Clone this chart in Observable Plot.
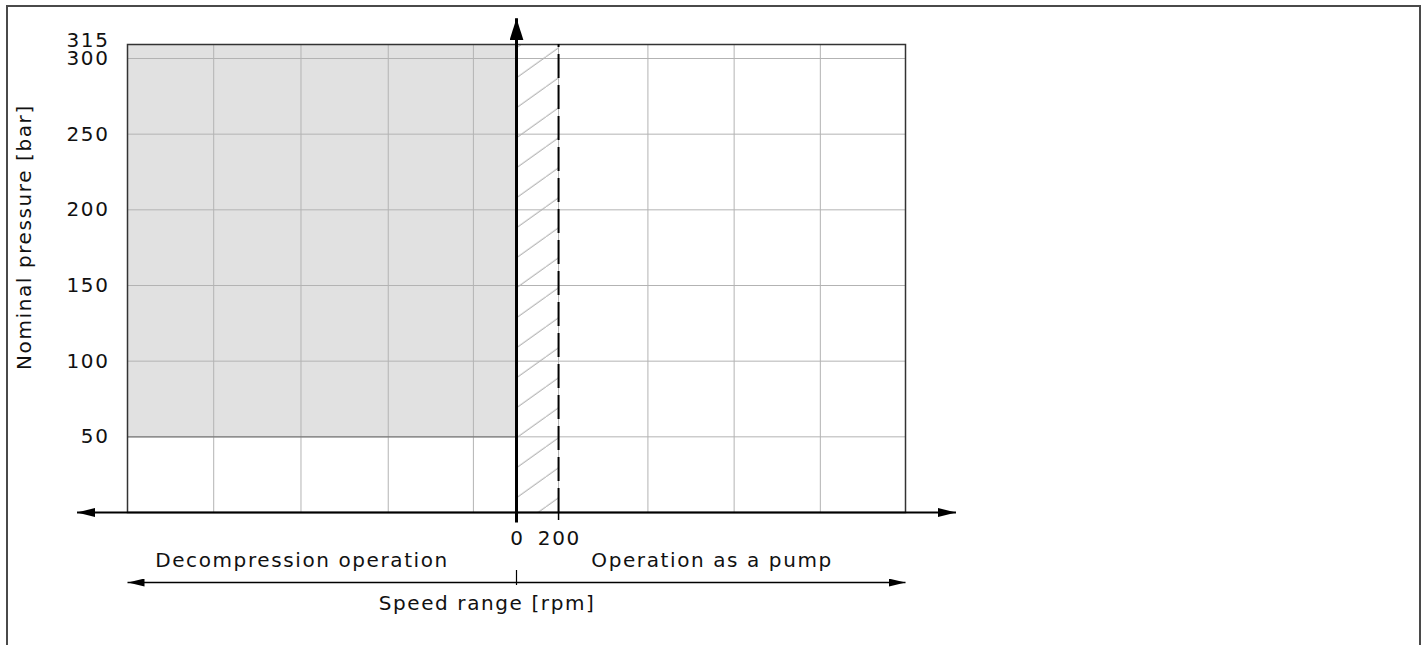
<!DOCTYPE html>
<html><head><meta charset="utf-8">
<script src="https://cdn.jsdelivr.net/npm/d3@7"></script>
<script src="https://cdn.jsdelivr.net/npm/@observablehq/plot@0.6"></script>
<style>
html,body{margin:0;padding:0;background:#fff;overflow:hidden;}
#wrap{position:relative;width:1426px;height:645px;}
#border{position:absolute;left:6px;top:5px;width:1415px;height:700px;box-sizing:border-box;border:2px solid #4a4a4a;border-bottom:none;}
#chart{position:absolute;left:0;top:0;}
</style></head><body>
<div id="wrap"><div id="border"></div><div id="chart"></div></div>
<script>
// ---- data ----
const pressureTicks = [50, 100, 150, 200, 250, 300];
const pressureMax = 315;
const pressureGrid = [50, 100, 150, 200, 250, 300];
const speedTicks = [0, 200];
const speedGrid = [-1440, -1025, -610, -205, 200, 625, 1035, 1445];
const speedLimits = [-1850, 1850];
const zoneNames = ["Decompression operation", "Operation as a pump"];
const zoneLabelSpeed = [-1020, 930];
const shadedSpeed = [-1850, 0];
const shadedPressure = [50, 315];
const hatchSpeed = [0, 200];
const hatchPressure = [0, 315];
const xTitle = "Speed range [rpm]";
const xTitleSpeed = -140;
const yTitle = "Nominal pressure [bar]";
const yTitlePressure = 182;
const axisArrowSpeed = 2090;   // tips of the horizontal axis arrows
const axisArrowPressure = 343; // tip of the vertical axis arrow
const axisFootPressure = -6.6; // small extension of the vertical axis below zero

function solidArrow(len, wid) {
  return (color) => {
    const m = d3.create("svg:marker")
      .attr("viewBox", `0 ${-wid / 2} ${len} ${wid}`)
      .attr("markerUnits", "userSpaceOnUse")
      .attr("markerWidth", len).attr("markerHeight", wid)
      .attr("refX", len).attr("refY", 0)
      .attr("orient", "auto");
    m.append("path").attr("d", `M0,${-wid / 2}L${len},0L0,${wid / 2}Z`).attr("fill", color).attr("stroke", "none");
    return m.node();
  };
}

const svg = Plot.plot({
  width: 1426,
  height: 645,
  marginLeft: 127,
  marginRight: 521,
  marginTop: 44,
  marginBottom: 133,
  style: {fontFamily: "'DejaVu Sans', sans-serif", fontSize: "20px", letterSpacing: "1.6px", color: "#111", background: "transparent", overflow: "visible"},
  x: {type: "linear", domain: speedLimits, axis: null, label: null},
  y: {type: "linear", domain: [0, 300, pressureMax], range: [512, 58, 44], axis: null, label: null},
  marks: [
    Plot.rect([0], {x1: shadedSpeed[0], x2: shadedSpeed[1], y1: shadedPressure[0], y2: shadedPressure[1], fill: "#e1e1e1"}),
    Plot.rect([0], {x1: hatchSpeed[0], x2: hatchSpeed[1], y1: hatchPressure[0], y2: hatchPressure[1], fill: "url(#hatch)"}),
    Plot.ruleX(speedGrid, {x: d => d, y1: 0, y2: pressureMax, stroke: "#b3b3b3", strokeWidth: 1}),
    Plot.ruleY(pressureGrid, {y: d => d, x1: speedLimits[0], x2: speedLimits[1], stroke: "#b3b3b3", strokeWidth: 1}),
    Plot.ruleY([shadedPressure[0]], {y: d => d, x1: shadedSpeed[0], x2: shadedSpeed[1], stroke: "#7a7a7a", strokeWidth: 1.2}),
    Plot.frame({stroke: "#333", strokeWidth: 1.5}),
    Plot.ruleX([speedTicks[1]], {x: d => d, y1: 0, y2: pressureMax, stroke: "#000", strokeWidth: 2, strokeDasharray: "24,7"}),
    Plot.ruleX([speedTicks[1]], {x: d => d, y1: 0, y2: 0, insetTop: 0, insetBottom: -8, stroke: "#000", strokeWidth: 1.5}),
    // horizontal axis with arrows
    Plot.link([-axisArrowSpeed, axisArrowSpeed], {x1: 0, x2: d => d, y1: 0, y2: 0, stroke: "#000", strokeWidth: 2, markerEnd: solidArrow(18, 9)}),
    // vertical axis with arrow
    Plot.link([axisArrowPressure], {x1: 0, x2: 0, y1: axisFootPressure, y2: d => d, stroke: "#000", strokeWidth: 3, markerEnd: solidArrow(22, 14)}),
    // dimension arrows (speed range)
    Plot.link(speedLimits, {x1: 0, x2: d => d, y1: 0, y2: 0, dy: 70, stroke: "#000", strokeWidth: 1.5, markerEnd: solidArrow(17, 8)}),
    Plot.ruleX([0], {x: d => d, y1: 0, y2: 0, dy: 70, insetTop: -12, insetBottom: -3, stroke: "#000", strokeWidth: 1.2}),
    // tick labels
    Plot.text(pressureTicks, {y: d => d, text: d => String(d), frameAnchor: "left", textAnchor: "end", dx: -18, lineAnchor: "middle"}),
    Plot.text([pressureMax], {y: d => d, text: d => String(d), frameAnchor: "left", textAnchor: "end", dx: -18, dy: -4, lineAnchor: "middle"}),
    Plot.text(speedTicks, {x: d => d, text: d => String(d), frameAnchor: "bottom", dy: 26, dx: 0.8, lineAnchor: "middle"}),
    // zone labels and titles
    Plot.text(zoneNames, {x: (d, i) => zoneLabelSpeed[i], text: d => d, frameAnchor: "bottom", dy: 48, lineAnchor: "middle"}),
    Plot.text([xTitle], {x: xTitleSpeed, text: d => d, frameAnchor: "bottom", dy: 91, lineAnchor: "middle"}),
    Plot.text([yTitle], {y: yTitlePressure, text: d => d, frameAnchor: "left", textAnchor: "middle", dx: -103, rotate: -90, lineAnchor: "middle"})
  ]
});

const defs = d3.select(svg).insert("defs", ":first-child");
const pat = defs.append("pattern")
  .attr("id", "hatch")
  .attr("patternUnits", "userSpaceOnUse")
  .attr("width", 42).attr("height", 30)
  .attr("patternTransform", "translate(0,-3.3)");
pat.append("path")
  .attr("d", "M-42,30L0,0M0,30L42,0M42,30L84,0")
  .attr("stroke", "#909090").attr("stroke-width", 0.9).attr("fill", "none");

document.getElementById("chart").appendChild(svg);
</script></body></html>
